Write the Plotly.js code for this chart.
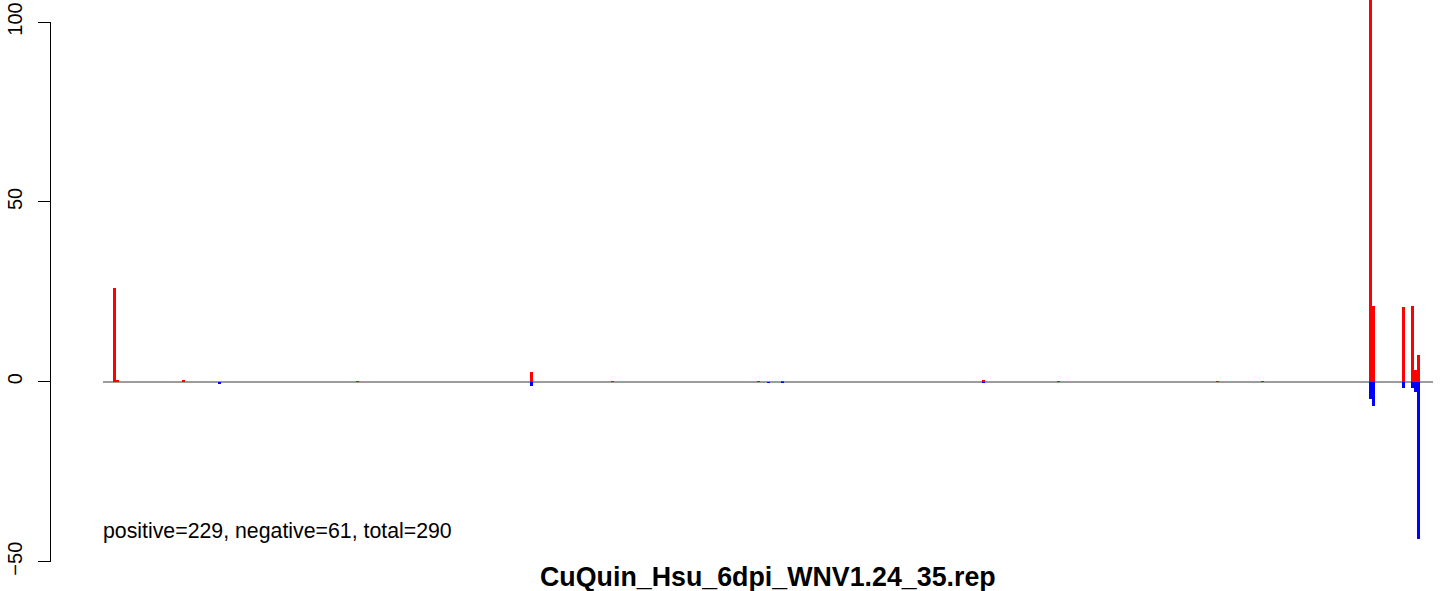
<!DOCTYPE html>
<html>
<head>
<meta charset="utf-8">
<script src="https://cdn.plot.ly/plotly-3.0.1.min.js"></script>
<style>html,body{margin:0;padding:0;background:#fff;}#chart{width:1444px;height:591px;}</style>
</head>
<body>
<div id="chart"></div>
<script>
// Positions along the sequence (plot units) and per-position read values
const positions = [11.2, 14.2, 80.5, 116.5, 254.5, 428.5, 509.5, 655.5, 665.5, 679.5, 880.5, 955.5, 1114.5, 1159.5, 1267.5, 1270.5, 1300.5, 1309.5, 1312.5, 1315.5];
const positiveVals = [26.2, 0.4, 0.4, 0, 0.3, 2.7, 0.3, 0.3, 0, 0.3, 0.6, 0.3, 0.3, 0.3, 124, 21.2, 20.9, 21.2, 3.3, 7.5];
const negativeVals = [0, 0, 0, -0.5, 0, -1.2, 0, 0, -0.4, -0.4, -0.4, 0, 0, 0, -4.8, -6.6, -1.6, -1.6, -2.7, -43.6];
const yTicks = [-50, 0, 50, 100];
const summaryText = "positive=229, negative=61, total=290";
const titleText = "CuQuin_Hsu_6dpi_WNV1.24_35.rep";

const W = 1444, H = 591;
const mL = 50, mR = 11, mT = 0, mB = 21;
const plotH = H - mT - mB;           // 570
const pxPerUnit = 3.598;
const zeroPx = 381.8;
const yMax = zeroPx / pxPerUnit;
const yMin = -(plotH - zeroPx) / pxPerUnit;
const ax2Lo = (plotH - (zeroPx + 50 * pxPerUnit)) / plotH;
const ax2Hi = (plotH - (zeroPx - 100 * pxPerUnit)) / plotH;
const plotW = W - mL - mR;
const xStart = (103 - mL) / plotW;

const font = "Liberation Sans, Arial, Helvetica, sans-serif";

const traces = [
  {type: 'scatter', mode: 'markers', x: [positions[0], positions[0]], y: [yTicks[0], yTicks[yTicks.length-1]], yaxis: 'y2', marker: {opacity: 0, size: 1}, hoverinfo: 'skip', showlegend: false},
  {type: 'bar', x: positions, y: positiveVals, width: 3, marker: {color: '#ff0000', line: {width: 0}}, hoverinfo: 'x+y', showlegend: false},
  {type: 'bar', x: positions, y: negativeVals, width: 3, marker: {color: '#0000ff', line: {width: 0}}, hoverinfo: 'x+y', showlegend: false}
];

const layout = {
  width: W, height: H,
  margin: {l: mL, r: mR, t: mT, b: mB, pad: 0},
  paper_bgcolor: '#fff', plot_bgcolor: 'rgba(0,0,0,0)',
  barmode: 'overlay', bargap: 0,
  font: {family: font, color: '#000', size: 20},
  xaxis: {domain: [xStart, 1], range: [0, 1330], visible: false, fixedrange: true},
  yaxis: {range: [yMin, yMax], showticklabels: false, showline: false, showgrid: false,
          ticks: '', zeroline: true, zerolinecolor: '#9c9c9c', zerolinewidth: 2, fixedrange: true,
          layer: 'below traces', zerolinelayer: 'below traces'},
  yaxis2: {domain: [ax2Lo, ax2Hi], range: [-50, 100], anchor: 'free', position: 0,
           showline: true, linecolor: '#000', linewidth: 1, ticks: 'outside', ticklen: 12,
           tickwidth: 1, tickcolor: '#000', tickvals: yTicks, ticktext: yTicks.map(v => v < 0 ? '\u2212' + Math.abs(v) : String(v)),
           tickangle: -90, tickfont: {family: font, size: 20, color: '#000'}, ticklabelstandoff: 8,
           showgrid: false, zeroline: false, fixedrange: true},
  annotations: [
    {text: summaryText, xref: 'x domain', x: 0, xanchor: 'left', xshift: -2, yref: 'y', y: -41.5, yanchor: 'middle',
     showarrow: false, font: {family: font, size: 21.3, color: '#000'}},
    {text: '<b>' + titleText + '</b>', xref: 'x domain', x: 0.5, xanchor: 'center', yref: 'paper', y: -(577 - (H - mB)) / plotH, yanchor: 'middle',
     showarrow: false, font: {family: font, size: 26.8, color: '#000'}}
  ]
};

Plotly.newPlot('chart', traces, layout, {displayModeBar: false, staticPlot: true});
</script>
</body>
</html>
